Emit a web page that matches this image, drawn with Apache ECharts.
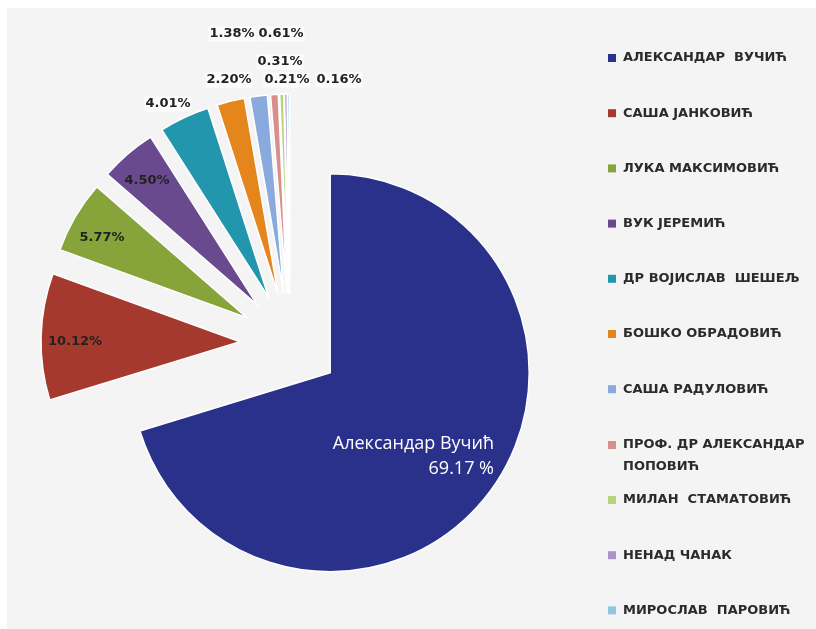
<!DOCTYPE html>
<html>
<head>
<meta charset="utf-8">
<script src="https://cdn.jsdelivr.net/npm/echarts@6/dist/echarts.min.js"></script>
<style>
html,body{margin:0;padding:0;background:#ffffff;width:816px;height:629px;overflow:hidden;}
#chart{position:absolute;left:7px;top:8px;width:809px;height:621px;background:#f4f4f4;}
</style>
</head>
<body>
<div id="chart"></div>
<script>
// ---- data ----
const candidates = [
  'АЛЕКСАНДАР  ВУЧИЋ',
  'САША ЈАНКОВИЋ',
  'ЛУКА МАКСИМОВИЋ',
  'ВУК ЈЕРЕМИЋ',
  'ДР ВОЈИСЛАВ  ШЕШЕЉ',
  'БОШКО ОБРАДОВИЋ',
  'САША РАДУЛОВИЋ',
  'ПРОФ. ДР АЛЕКСАНДАР\nПОПОВИЋ',
  'МИЛАН  СТАМАТОВИЋ',
  'НЕНАД ЧАНАК',
  'МИРОСЛАВ  ПАРОВИЋ'
];
const shares = [69.17, 10.12, 5.77, 4.50, 4.01, 2.20, 1.38, 0.61, 0.31, 0.21, 0.16];
const mainLabelName = 'Александар Вучић';

// ---- styles ----
const colors = ['#2a318a','#a6392e','#86a43a','#6a4a8f','#2196ad','#e5861d','#8aa9dc','#d98e8e','#b6d37a','#a894c8','#92c6e0'];
const OX = 7, OY = 8; // chart div offset in page
// label anchor positions (page coords): x, y, align
const labelPos = [
  [494, 456, 'right'],
  [75, 342, 'center'],
  [102, 238, 'center'],
  [147, 181, 'center'],
  [168, 104, 'center'],
  [229, 80, 'center'],
  [232, 34, 'center'],
  [281, 34, 'center'],
  [280, 62, 'center'],
  [287, 80, 'center'],
  [339, 80, 'center']
];

const pieData = candidates.map((n, i) => ({
  name: n,
  value: shares[i],
  selected: true,
  itemStyle: { color: colors[i] }
}));

const labelGraphics = shares.map((v, i) => {
  const lp = labelPos[i];
  if (i === 0) {
    return {
      type: 'text', x: lp[0] - OX, y: lp[1] - OY, silent: true, z: 100,
      style: {
        text: mainLabelName + '\n' + v.toFixed(2) + ' %',
        fill: '#ffffff', font: '18px "Open Sans"', lineHeight: 25,
        textAlign: 'right', textVerticalAlign: 'middle'
      }
    };
  }
  const st = {
    text: v.toFixed(2) + '%',
    fill: '#222222', font: 'bold 13px "DejaVu Sans"',
    textAlign: 'center', textVerticalAlign: 'middle'
  };
  if (i >= 4) { st.backgroundColor = 'rgba(252,252,252,0.9)'; st.padding = [1, 1]; }
  return { type: 'text', x: lp[0] - OX, y: lp[1] - OY, silent: true, z: 100, style: st };
});

const legendFont = { fontFamily: 'DejaVu Sans', fontWeight: 'bold', fontSize: 13, color: '#2b2b2b', lineHeight: 14, padding: [0,0,0,2] };
function mkLegend(idx, top) {
  return {
    orient: 'vertical', left: 602 - OX + 6, top: top - OY, padding: 0,
    itemWidth: 8, itemHeight: 8, itemGap: 41.2, icon: 'rect',
    selectedMode: false,
    itemStyle: { borderWidth: 0 },
    data: idx.map(i => candidates[i]),
    textStyle: legendFont
  };
}

const chart = echarts.init(document.getElementById('chart'), null, { renderer: 'canvas' });
chart.setOption({
  animation: false,
  backgroundColor: '#f4f4f4',
  legend: [
    mkLegend([0,1,2,3,4,5,6], 51),
    Object.assign(mkLegend([7], 434), {
      itemHeight: 44,
      icon: 'path://M0,7h8v8h-8zM0,0h0.01v0.01h-0.01zM0,44h0.01v0.01h-0.01z',
      textStyle: Object.assign({}, legendFont, { lineHeight: 22 })
    }),
    mkLegend([8,9,10], 493)
  ],
  graphic: labelGraphics,
  series: [{
    type: 'pie',
    center: [290 - OX, 343 - OY],
    radius: 199,
    startAngle: 90,
    clockwise: true,
    selectedMode: 'multiple',
    selectedOffset: 50,
    silent: true,
    emphasis: { disabled: true },
    itemStyle: { borderColor: '#ffffff', borderWidth: 1.5 },
    label: { show: false },
    labelLine: { show: false },
    data: pieData
  }]
});
</script>
</body>
</html>
